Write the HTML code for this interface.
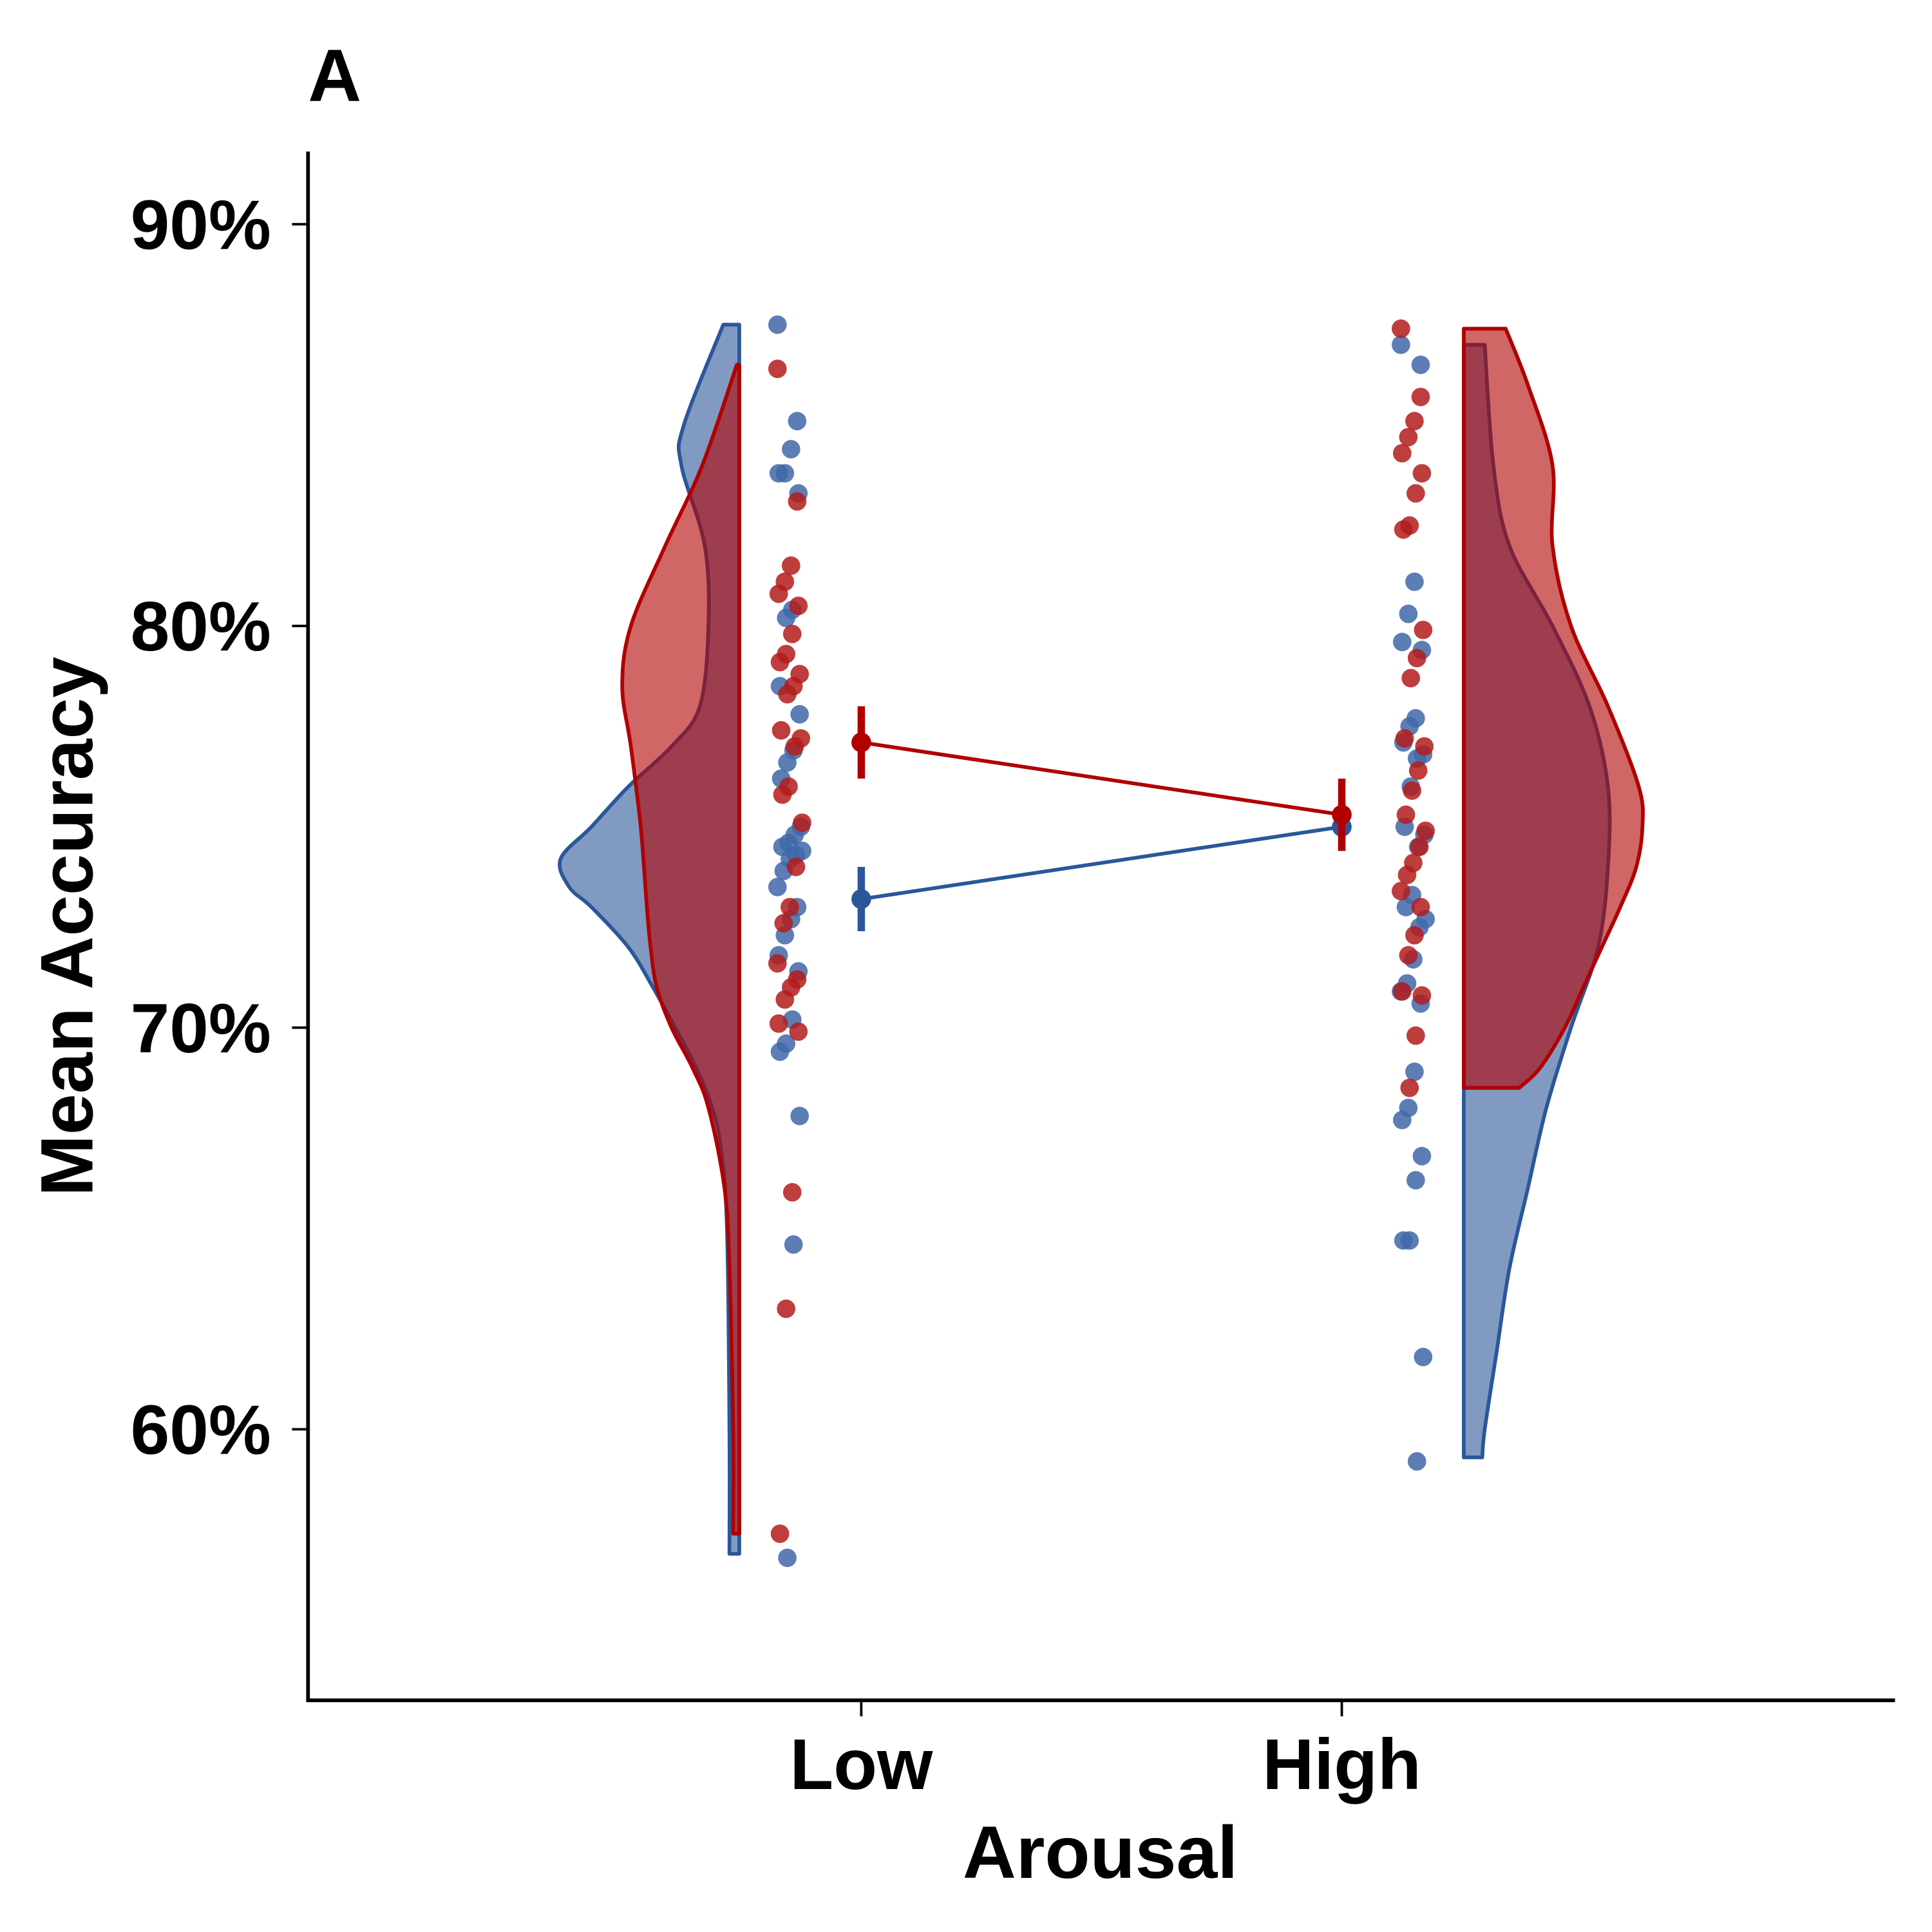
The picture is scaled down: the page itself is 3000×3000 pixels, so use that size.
<!DOCTYPE html>
<html><head><meta charset="utf-8"><style>html,body{margin:0;padding:0;background:#fff}svg{display:block}</style></head>
<body>
<svg id="chart" width="3000" height="3000" viewBox="0 0 1568 1568" xmlns="http://www.w3.org/2000/svg" font-family="'Liberation Sans', Arial, sans-serif" font-weight="bold">
<rect width="1568" height="1568" fill="#fff"/>
<text x="250" y="82" font-size="60">A</text>
<g id="plot"></g>
<line x1="250" y1="123" x2="250" y2="1381" stroke="#000" stroke-width="3"/>
<line x1="248.5" y1="1380" x2="1538" y2="1380" stroke="#000" stroke-width="3"/>
<g id="axes"></g>
<text x="893" y="1524" font-size="60" text-anchor="middle">Arousal</text>
<text transform="translate(75,752) rotate(-90)" font-size="60" text-anchor="middle">Mean Accuracy</text>
</svg>
<script>
const yTicks=[60,70,80,90];
const yTickLabels=["60%","70%","80%","90%"];
const categories=["Low","High"];
const violinLowBlueY=[87.5,85,84,82,80,78,77,76,75,74.2,73.5,73,72,71,70,69,68,67,65,60,56.9];
const violinLowBlueW=[13,45,47,28,25,32,55,90,120,145,138,120,90,70,52,35,22,15,10,8,8];
const violinLowRedY=[86.5,84,82,80,78.5,77,75,73,72,71,70,69,68,66,64,60,57.4];
const violinLowRedW=[2,30,60,88,95,88,80,75,72,67,55,38,25,12,8,5,5];
const violinHighBlueY=[87,84,82,80,78,76,74,72,70,68,66,64,62,60,59.3];
const violinHighBlueW=[17,24,37,72,102,117,117,109,87,67,52,37,27,17,15];
const violinHighRedY=[87.4,86,84,82,80,78,76,75,74,73,72,71,70,69,68.5];
const violinHighRedW=[34,52,72,72,87,117,142,145,140,127,112,97,82,62,45];
const lowBlue=[87.5,85.1,84.4,83.8,83.8,83.3,80.4,80.2,78.5,77.8,76.9,76.6,76.2,75.0,74.8,74.6,74.5,74.4,74.3,74.2,73.9,73.5,73.0,72.7,72.3,71.8,71.4,70.2,69.6,69.4,67.8,64.6,56.8];
const lowRed=[86.4,83.1,81.5,81.1,80.8,80.5,79.8,79.3,79.1,78.8,78.5,78.3,77.4,77.2,77.0,76.0,75.8,75.1,74.0,73.0,72.6,71.6,71.2,71.0,70.7,70.1,69.9,65.9,63.0,57.4];
const highBlue=[87.0,86.5,81.1,80.3,79.6,79.4,77.7,77.5,77.1,76.8,76.7,76.0,75.0,74.8,74.5,73.3,73.0,72.7,72.5,71.7,71.1,70.9,70.6,68.9,68.0,67.7,66.8,66.2,64.7,64.7,61.8,59.2];
const highRed=[87.4,85.7,85.1,84.7,84.3,83.8,83.3,82.5,82.4,79.9,79.2,78.7,77.2,77.0,76.4,75.9,75.3,74.9,74.5,74.1,73.8,73.4,73.0,72.3,71.8,70.9,70.8,69.8,68.5];
const meanBlue=[73.2,75.0];
const errBlue=[0.8,0.6];
const meanRed=[77.1,75.3];
const errRed=[0.9,0.9];

const NS="http://www.w3.org/2000/svg";
const y=v=>182+(90-v)*32.6;
const xCat=i=>[699,1089][i];
const plot=document.getElementById('plot'), axes=document.getElementById('axes');
function mk(tag,attrs,parent){const e=document.createElementNS(NS,tag);for(const k in attrs)e.setAttribute(k,attrs[k]);parent.appendChild(e);return e;}
const BLUE="#2B579A", RED="#B00000";
function violin(Y,W,base,dir,fill,stroke,name){
  const P=Y.map((v,i)=>[base+dir*W[i],y(v)]);
  let d=`M${base},${P[0][1]} L${P[0][0]},${P[0][1]}`;
  for(let i=0;i<P.length-1;i++){
    const p0=P[Math.max(i-1,0)],p1=P[i],p2=P[i+1],p3=P[Math.min(i+2,P.length-1)];
    const c1=[p1[0]+(p2[0]-p0[0])/6,p1[1]+(p2[1]-p0[1])/6];
    const c2=[p2[0]-(p3[0]-p1[0])/6,p2[1]-(p3[1]-p1[1])/6];
    d+=` C${c1[0]},${c1[1]} ${c2[0]},${c2[1]} ${p2[0]},${p2[1]}`;
  }
  d+=` L${base},${P[P.length-1][1]} Z`;
  const p=mk('path',{d,fill,'fill-opacity':0.6,stroke,'stroke-width':3,'stroke-linejoin':'round'},plot);
  
  
}
violin(violinLowBlueY,violinLowBlueW,xCat(0)-99,-1,BLUE,BLUE,'violin-low-blue');
violin(violinLowRedY,violinLowRedW,xCat(0)-99,-1,RED,RED,'violin-low-red');
violin(violinHighBlueY,violinHighBlueW,xCat(1)+99,1,BLUE,BLUE,'violin-high-blue');
violin(violinHighRedY,violinHighRedW,xCat(1)+99,1,RED,RED,'violin-high-red');
function dots(vals,ci,color,name){
  const off=ci===0?-58:58;
  vals.forEach((v,i)=>{
    const j=((i*37)%21)-10;
    const c=mk('circle',{cx:xCat(ci)+off+j,cy:y(v),r:7.5,fill:color,'fill-opacity':0.85},plot);
    
    
  });
}
dots(lowBlue,0,"#3F67A8",'point-low-blue');
dots(lowRed,0,"#B31B1B",'point-low-red');
dots(highBlue,1,"#3F67A8",'point-high-blue');
dots(highRed,1,"#B31B1B",'point-high-red');
function means(m,e,color,name){
  const l=mk('line',{x1:xCat(0),y1:y(m[0]),x2:xCat(1),y2:y(m[1]),stroke:color,'stroke-width':3},plot);
  
  
  m.forEach((v,i)=>{
    const b=mk('line',{x1:xCat(i),y1:y(v+e[i]),x2:xCat(i),y2:y(v-e[i]),stroke:color,'stroke-width':6},plot);
    
    
    const c=mk('circle',{cx:xCat(i),cy:y(v),r:8,fill:color},plot);
    
    
  });
}
means(meanBlue,errBlue,BLUE,'mean-blue');
means(meanRed,errRed,RED,'mean-red');
yTicks.forEach((t,i)=>{
  const l=mk('line',{x1:237,y1:y(t),x2:250,y2:y(t),stroke:'#000','stroke-width':2},axes);
  
  
  const tx=mk('text',{x:220,y:y(t)+20,'font-size':57,'text-anchor':'end'},axes);
  tx.textContent=yTickLabels[i];
  
  
});
categories.forEach((c,i)=>{
  const l=mk('line',{x1:xCat(i),y1:1381,x2:xCat(i),y2:1393,stroke:'#000','stroke-width':2},axes);
  
  
  const tx=mk('text',{x:xCat(i),y:1452,'font-size':58,'text-anchor':'middle'},axes);
  tx.textContent=c;
  
  
});
</script>
</body></html>
